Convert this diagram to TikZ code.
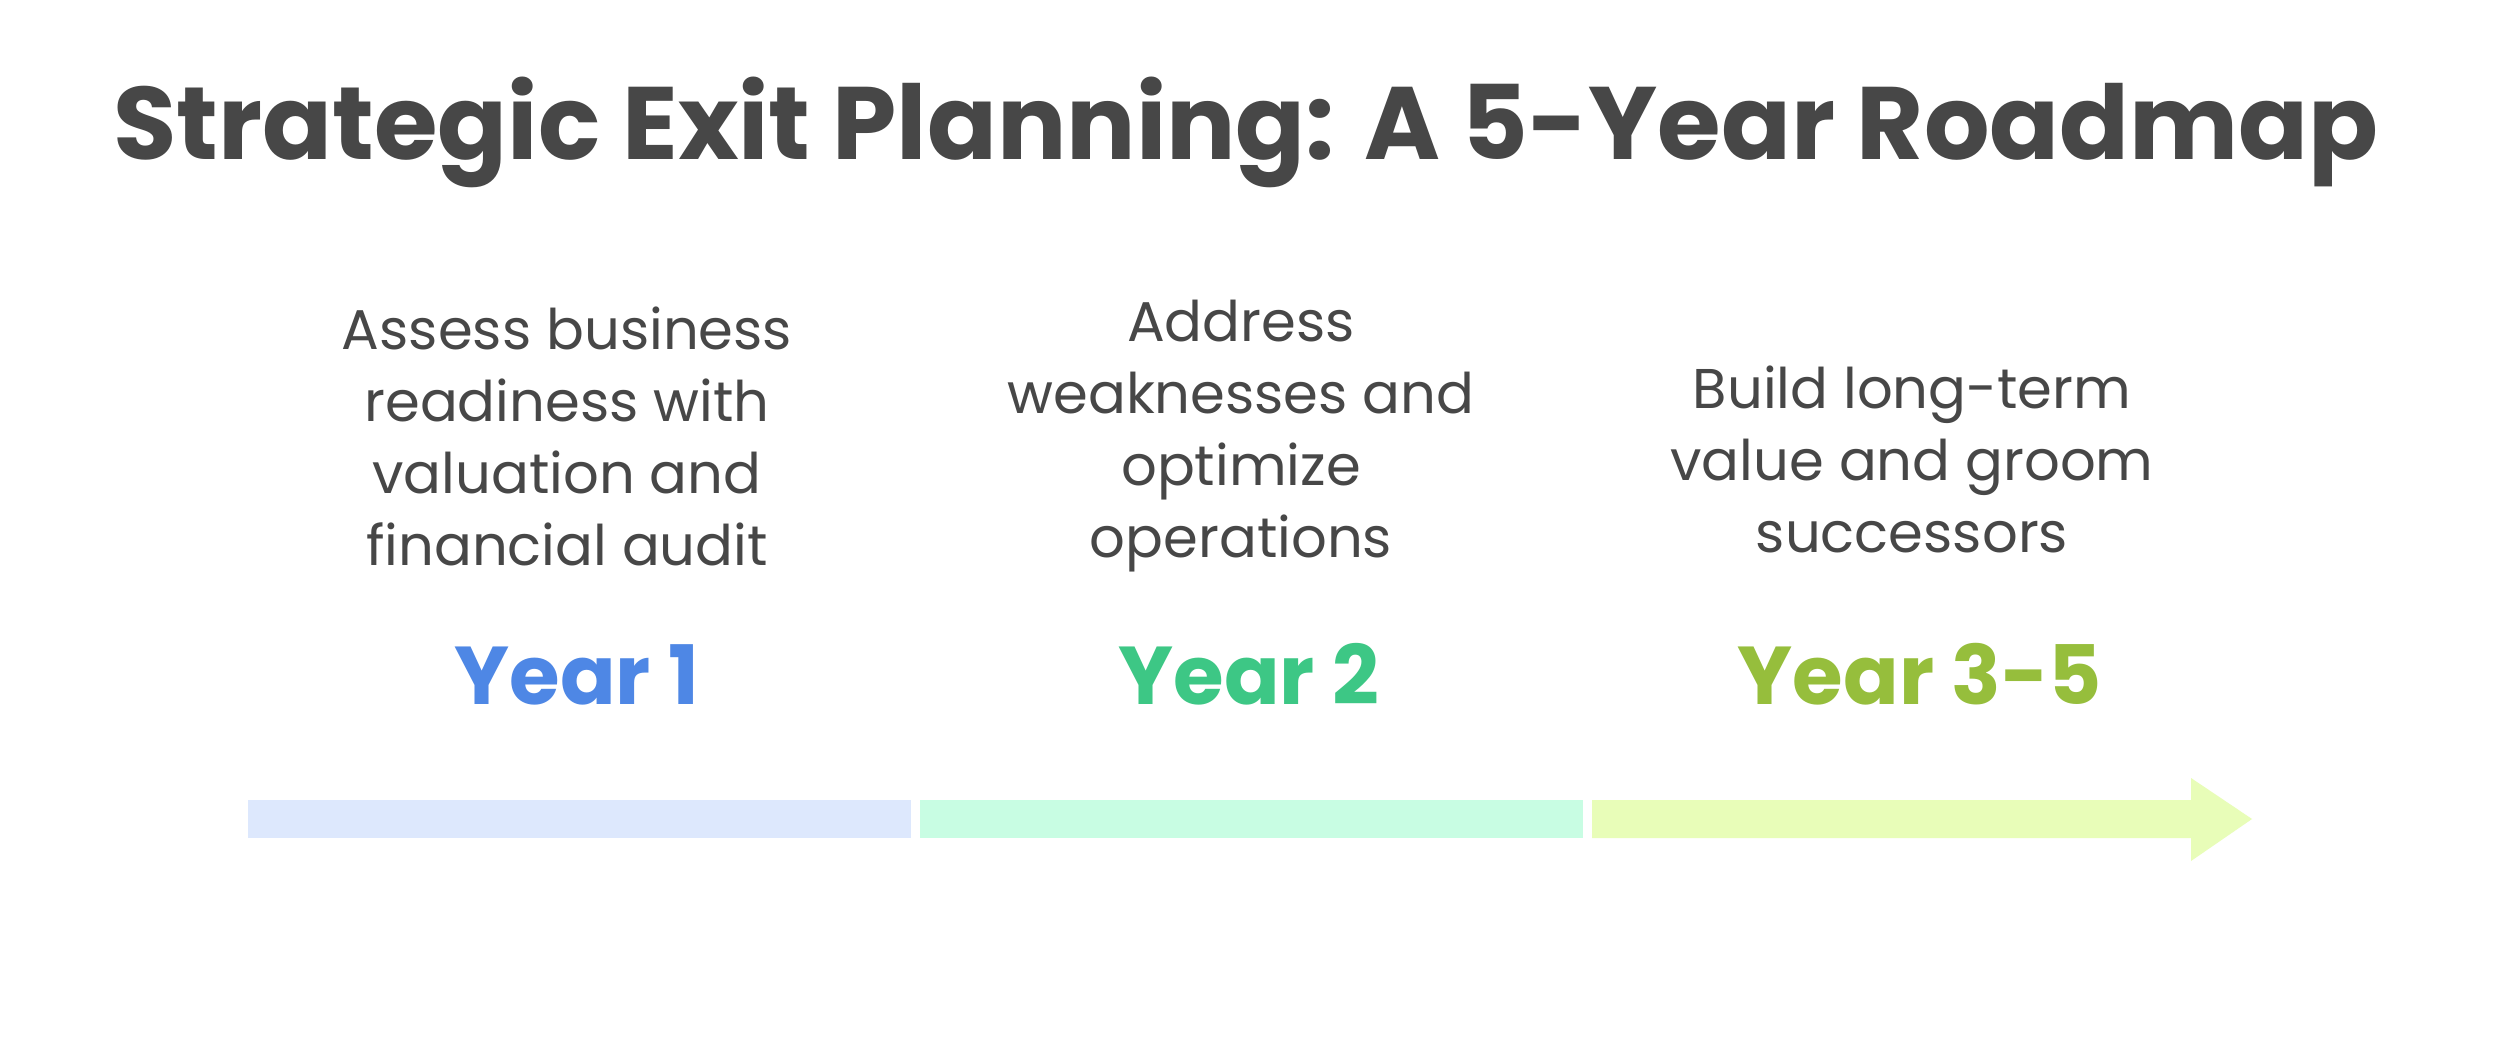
\documentclass[tikz,border=0pt]{standalone}
\usepackage{fontspec}
\setmainfont{Poppins}
\usetikzlibrary{positioning}

\definecolor{ink}{HTML}{474747}
\definecolor{yrblue}{HTML}{4E87E5}
\definecolor{yrgreen}{HTML}{3DC785}
\definecolor{yrolive}{HTML}{96BE3C}
\definecolor{barblue}{HTML}{DDE8FD}
\definecolor{bargreen}{HTML}{C8FDE3}
\definecolor{barolive}{HTML}{E8FDB8}

\begin{document}
\begin{tikzpicture}[x=0.5pt, y=-0.5pt, align=center, inner sep=0pt,
  desc/.style={text=ink, font=\fontsize{28}{36}\selectfont},
  year/.style={font=\fontsize{41}{44}\selectfont\bfseries, anchor=base}]
\useasboundingbox[fill=white] (0,0) rectangle (2504,1064);

\node (title) [text=ink, anchor=base, font=\fontsize{51.5}{56}\selectfont\bfseries] at (1246,160) {Strategic Exit Planning: A 5-Year Roadmap};

% -------------------------------

\node (desc1) [desc] at (567,436) {Assess business\\readiness with\\valuation and\\financial audit};
\node (desc2) [desc] at (1241,436) {Address\\weaknesses and\\optimize\\operations};
\node (desc3) [desc] at (1912,459) {Build long-term\\value and groom\\successors};

\node (year1) [year, text=yrblue] at (577,704) {Year 1};
\node (year2) [year, text=yrgreen] at (1249,704) {Year 2};
\node (year3) [year, text=yrolive] at (1920,704) {Year 3-5};

% -------------------------------

\fill[barblue] (248,800) rectangle (911,838);
\fill[bargreen] (920,800) rectangle (1583,838);
\fill[barolive] (1592,800) -- (2191,800) -- (2191,778) -- (2252,819) -- (2191,861) -- (2191,838) -- (1592,838) -- cycle;
\end{tikzpicture}
\end{document}
